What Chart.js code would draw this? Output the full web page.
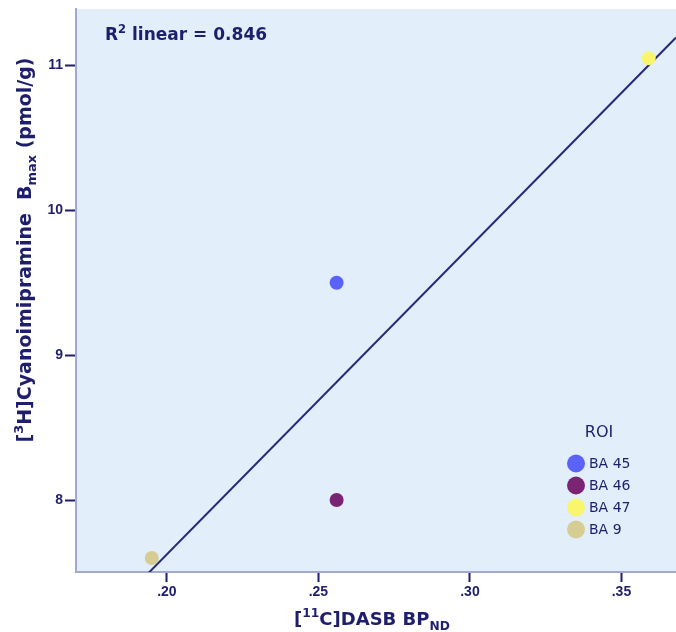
<!DOCTYPE html>
<html>
<head>
<meta charset="utf-8">
<script src="https://cdn.jsdelivr.net/npm/chart.js@4"></script>
<style>
  html, body { margin: 0; padding: 0; background: #fff; }
  #wrap { width: 676px; height: 632px; }
</style>
</head>
<body>
<div id="wrap"><canvas id="c" width="676" height="632"></canvas></div>
<script>
// ROI groups and their BP / Bmax values
const rois = ["BA 45", "BA 46", "BA 47", "BA 9"];
const dasbBP = [0.256, 0.256, 0.359, 0.195];
const bmax = [9.5, 8.0, 11.05, 7.6];
const roiColors = ["#5a62f8", "#7a2474", "#f9f56c", "#d6cd92"];
const xTicks = [0.20, 0.25, 0.30, 0.35];
const yTicks = [8, 9, 10, 11];
const xRange = [0.170, 0.368];
const yRange = [7.503, 11.39];

const navy = "#1e1e6c";

// least squares fit for the reference line
function linearFit(xs, ys) {
  const n = xs.length;
  const mx = xs.reduce((a, b) => a + b, 0) / n;
  const my = ys.reduce((a, b) => a + b, 0) / n;
  let sxy = 0, sxx = 0, syy = 0;
  for (let i = 0; i < n; i++) {
    sxy += (xs[i] - mx) * (ys[i] - my);
    sxx += (xs[i] - mx) * (xs[i] - mx);
    syy += (ys[i] - my) * (ys[i] - my);
  }
  const slope = sxy / sxx;
  return { slope: slope, intercept: my - slope * mx, r2: (sxy * sxy) / (sxx * syy) };
}
const fit = linearFit(dasbBP, bmax);

// text with super/subscript pieces
function richWidth(ctx, parts, size, weight) {
  let w = 0;
  parts.forEach(function (p) {
    const s = p.mode ? size * 0.68 : size;
    ctx.font = weight + " " + s + "px 'DejaVu Sans'";
    w += ctx.measureText(p.text).width;
  });
  return w;
}
function drawRich(ctx, parts, x, y, size, weight) {
  let cx = x;
  parts.forEach(function (p) {
    const s = p.mode ? size * 0.68 : size;
    ctx.font = weight + " " + s + "px 'DejaVu Sans'";
    let dy = 0;
    if (p.mode === "sup") dy = -size * 0.42;
    if (p.mode === "sub") dy = size * 0.28;
    ctx.fillText(p.text, cx, y + dy);
    cx += ctx.measureText(p.text).width;
  });
}

const decorPlugin = {
  id: "decor",
  beforeDraw(chart) {
    const ctx = chart.ctx;
    const a = chart.chartArea;
    ctx.save();
    ctx.fillStyle = "#e2eefa";
    ctx.fillRect(a.left, a.top, a.right - a.left, a.bottom - a.top);
    ctx.restore();
  },
  afterDraw(chart) {
    const ctx = chart.ctx;
    ctx.save();
    ctx.fillStyle = navy;
    ctx.textBaseline = "alphabetic";
    ctx.textAlign = "left";

    // R squared label
    drawRich(ctx, [
      { text: "R" }, { text: "2", mode: "sup" },
      { text: " linear = " + fit.r2.toFixed(3) }
    ], 105, 40, 17, "bold");

    // x axis title
    const xt = [
      { text: "[" }, { text: "11", mode: "sup" }, { text: "C]DASB BP" },
      { text: "ND", mode: "sub" }
    ];
    const xw = richWidth(ctx, xt, 18, "bold");
    drawRich(ctx, xt, 372 - xw / 2, 625, 18, "bold");

    // y axis title
    const yt = [
      { text: "[" }, { text: "3", mode: "sup" },
      { text: "H]Cyanoimipramine  B" }, { text: "max", mode: "sub" },
      { text: " (pmol/g)" }
    ];
    const yw = richWidth(ctx, yt, 19, "bold");
    ctx.save();
    ctx.translate(31, 250);
    ctx.rotate(-Math.PI / 2);
    drawRich(ctx, yt, -yw / 2, 0, 19, "bold");
    ctx.restore();

    // legend
    ctx.font = "16px 'DejaVu Sans'";
    ctx.textAlign = "center";
    ctx.textBaseline = "middle";
    ctx.fillText("ROI", 599, 433);
    ctx.font = "14px 'DejaVu Sans'";
    ctx.textAlign = "left";
    rois.forEach(function (name, i) {
      const cy = 463.5 + i * 22;
      ctx.beginPath();
      ctx.arc(576, cy, 9, 0, Math.PI * 2);
      ctx.fillStyle = roiColors[i];
      ctx.fill();
      ctx.fillStyle = navy;
      ctx.fillText(name, 589, cy + 1);
    });
    ctx.restore();
  }
};

const datasets = rois.map(function (name, i) {
  return {
    label: name,
    data: [{ x: dasbBP[i], y: bmax[i] }],
    backgroundColor: roiColors[i],
    borderWidth: 0,
    pointRadius: 7,
    pointHoverRadius: 7
  };
});
datasets.push({
  label: "fit",
  type: "line",
  data: xRange.map(function (x) { return { x: x, y: fit.intercept + fit.slope * x }; }),
  borderColor: "#29297a",
  borderWidth: 2,
  pointRadius: 0,
  fill: false
});

function pinTicks(values) {
  return function (scale) {
    scale.ticks = values.map(function (v) { return { value: v }; });
  };
}

new Chart(document.getElementById("c"), {
  type: "scatter",
  data: { datasets: datasets },
  options: {
    responsive: false,
    animation: false,
    layout: { autoPadding: false, padding: { top: 9, right: 0, left: 0, bottom: 0 } },
    plugins: {
      legend: { display: false },
      tooltip: { enabled: false }
    },
    scales: {
      x: {
        type: "linear",
        min: xRange[0],
        max: xRange[1],
        afterBuildTicks: pinTicks(xTicks),
        afterFit: function (s) {
          s.height = 60;
          s.paddingLeft = 0;
          s.paddingRight = 0;
        },
        border: { color: "#a3a8d2", width: 2 },
        grid: { drawOnChartArea: false, tickLength: 10, tickColor: navy, tickWidth: 2 },
        ticks: {
          color: navy,
          padding: 2,
          font: { family: "'Liberation Sans'", size: 14, weight: "bold" },
          callback: function (v) { return v.toFixed(2).replace(/^0/, ""); }
        }
      },
      y: {
        type: "linear",
        min: yRange[0],
        max: yRange[1],
        afterBuildTicks: pinTicks(yTicks),
        afterFit: function (s) {
          s.width = 76;
          s.paddingTop = 0;
          s.paddingBottom = 0;
        },
        border: { color: "#a3a8d2", width: 2 },
        grid: { drawOnChartArea: false, tickLength: 11, tickColor: navy, tickWidth: 2 },
        ticks: {
          color: navy,
          padding: 2,
          font: { family: "'Liberation Sans'", size: 14, weight: "bold" },
          callback: function (v) { return String(v); }
        }
      }
    }
  },
  plugins: [decorPlugin]
});
</script>
</body>
</html>
